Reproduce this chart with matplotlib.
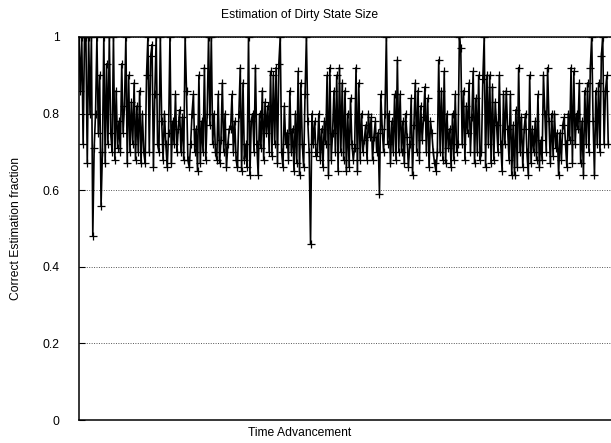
import numpy as np
import matplotlib.pyplot as plt

plt.rcParams['font.family'] = ['Liberation Sans', 'DejaVu Sans']

# fraction of correct estimations (7 stretches of 55 steps)
part_a = [1, .86, 1, .72, 1, 1, .67, 1, .8, 1, .48, .71, .8, 1, .75, .9, .56, .7, 1, .67,
          .93, .72, 1, .75, .7, 1, .68, .86, .71, .78, .7, .93, .75, .82, 1, .67, .9, .7, .83, .72,
          .88, .68, .82, .7, .86, .67, .8, .7, .67, .9, 1, .7, .95, .98, .66]
part_b = [.85, 1, .72, .7, 1, .78, .68, .8, .72, .66, .75, 1, .67, .78, .72, .85, .7, .76, .81, .7,
          .79, .68, 1, .86, .68, .66, .72, .8, .85, .7, .76, .65, .9, .67, .78, .7, .92, .68, .8, 1,
          .77, 1, .72, .8, .7, .68, .85, .67, .73, .88, .7, .8, .66, .72, .76]
part_c = [.76, .85, .7, .78, .68, .66, .8, .92, .65, .88, .68, .72, .66, 1, .64, .78, .8, .7, .92, .72,
          .64, .8, .71, .86, .68, .83, .75, .82, .7, .91, .69, .9, .72, .92, .67, .93, 1, .7, .66, .82,
          .72, .75, .68, .86, .7, .76, .65, .8, .67, .91, .64, .88, .72, .66, .85]
part_d = [1, .78, .7, .46, .8, .72, .78, .69, .7, .8, .68, .76, .66, .78, .72, .9, .64, .92, .68, .75,
          .86, .7, .9, .65, .92, .7, .88, .68, .86, .65, .8, .66, .84, .72, .68, .71, .92, .65, .88, .68,
          .8, .7, .73, .77, .68, .8, .74, .79, .68, .74, .78, .7, .75, .59, .85]
part_e = [.76, .7, .8, 1, .72, .8, .67, .78, .7, .85, .68, .94, .7, .85, .7, .78, .67, .8, .74, .66,
          .72, .84, .64, .77, .88, .7, .86, .68, .82, .73, .79, .87, .7, .84, .66, .78, .75, .7, .67, .65,
          .7, .94, .7, .86, .68, .91, .67, .8, .71, .76, .66, .8, .68, .85, .7]
part_f = [.72, 1, .97, .72, .86, .68, .82, .75, .88, .7, .79, .91, .67, .84, .7, .9, .68, .7, .89, 1,
          .66, .9, .72, .9, .67, .87, .68, .83, .77, .7, .9, .72, .65, .85, .72, .86, .76, .68, .85, .64,
          .77, .64, .81, .66, .92, .7, .79, .66, .76, .8, .7, .64, .9, .67, .76]
part_g = [.7, .78, .68, .85, .66, .73, .68, .9, .8, .7, .92, .78, .67, .8, .69, .8, .71, .75, .64, .75,
          .68, .77, .79, .72, .66, .8, .73, .92, .67, .91, .72, .8, .76, .88, .67, .78, .64, .86, .72, .88,
          .7, .92, 1, .78, .64, .86, .72, .88, .7, .95, 1, .72, .86, .9, .72]

fraction = part_a + part_b + part_c + part_d + part_e + part_f + part_g
steps = np.arange(len(fraction))
yticks = [0, 0.2, 0.4, 0.6, 0.8, 1]
yticklabels = ['0', '0.2', '0.4', '0.6', '0.8', '1']

fig = plt.figure(figsize=(6.11, 4.43), dpi=100)
ax = fig.add_axes([0.1293, 0.0519, 0.8707, 0.8646])

ax.plot(steps, fraction, color='black', lw=1.2, marker='+', ms=5.5, mew=0.9)

ax.set_xlim(0, len(fraction) + 1)
ax.set_ylim(0, 1)
ax.set_xticks([])
ax.set_yticks(yticks)
ax.set_yticklabels(yticklabels)
ax.tick_params(axis='y', direction='in', length=4, labelsize=8.7, pad=14)
ax.yaxis.grid(True, linestyle=(0, (1, 1.5)), color='#555555', lw=0.7)
ax.spines['right'].set_visible(False)
for s in ['left', 'bottom', 'top']:
    ax.spines[s].set_linewidth(1.1)

fig.text(0.49, 0.966, 'Estimation of Dirty State Size', ha='center', va='center', fontsize=8.7)
fig.text(0.49, 0.022, 'Time Advancement', ha='center', va='center', fontsize=8.7)
fig.text(0.026, 0.485, 'Correct Estimation fraction', ha='center', va='center',
         rotation=90, fontsize=8.7)

fig.savefig('out.png', dpi=100)
